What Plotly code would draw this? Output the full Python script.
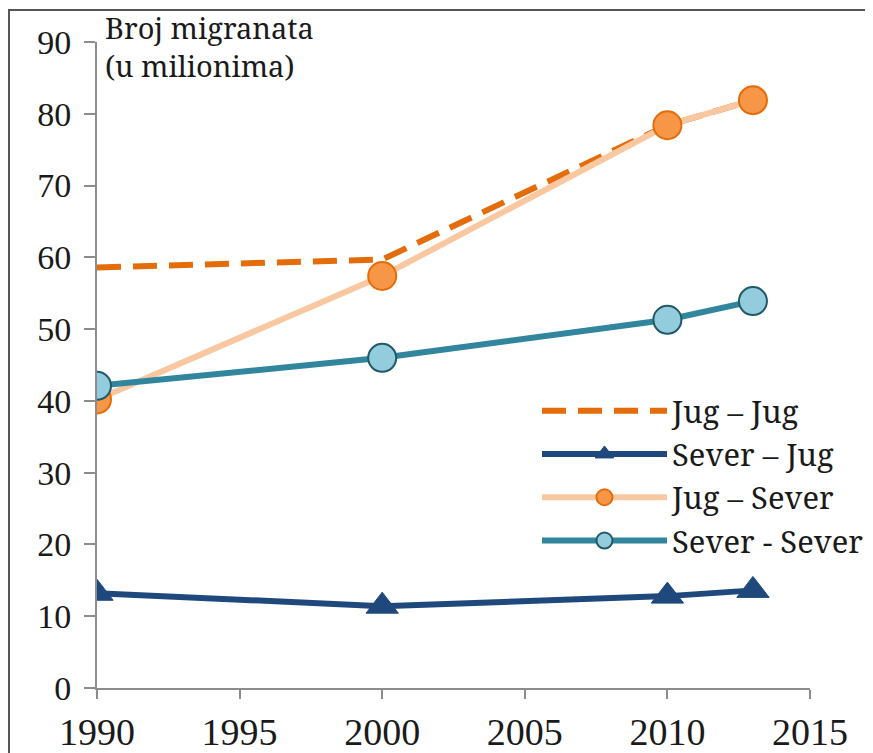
import plotly.graph_objects as go

years = [1990, 2000, 2010, 2013]
jug_jug = [58.6, 59.7, 78.4, 81.9]
sever_jug = [13.2, 11.4, 12.8, 13.6]
jug_sever = [40.2, 57.4, 78.4, 81.9]
sever_sever = [42.1, 46.0, 51.3, 53.9]

x_ticks = [1990, 1995, 2000, 2005, 2010, 2015]
y_ticks = [0, 10, 20, 30, 40, 50, 60, 70, 80, 90]

names = ["Jug – Jug", "Sever – Jug", "Jug – Sever", "Sever - Sever"]

TICKFONT = "Liberation Serif"
TEXTFONT = "Noto Serif"

fig = go.Figure()
fig.add_trace(go.Scatter(
    x=years, y=jug_jug, name=names[0], mode="lines", legendgroup="a",
    line=dict(color="#E46C0A", width=6, dash="24px,12px")))
fig.add_trace(go.Scatter(
    x=years, y=sever_jug, name=names[1], mode="lines+markers", legendgroup="b",
    line=dict(color="#1F497D", width=6),
    marker=dict(symbol="triangle-up", size=28, color="#1F497D",
                line=dict(color="#1F497D", width=1))))
fig.add_trace(go.Scatter(
    x=years, y=jug_sever, name=names[2], mode="lines+markers", legendgroup="c",
    line=dict(color="#FAC8A0", width=6),
    marker=dict(symbol="circle", size=28, color="#F79646",
                line=dict(color="#E46C0A", width=2))))
fig.add_trace(go.Scatter(
    x=years, y=sever_sever, name=names[3], mode="lines+markers", legendgroup="d",
    line=dict(color="#31859C", width=6),
    marker=dict(symbol="circle", size=28, color="#93CDDD",
                line=dict(color="#215968", width=2))))

fig.update_layout(
    width=873, height=753,
    margin=dict(l=89, r=71, t=34, b=73, autoexpand=False),
    paper_bgcolor="white", plot_bgcolor="white",
    font=dict(family=TICKFONT, color="#1a1a1a"),
    showlegend=True,
    legend=dict(x=0.6171, y=0.4706, xanchor="left", yanchor="top",
                bgcolor="rgba(0,0,0,0)", font=dict(family=TEXTFONT, size=31, color="#1a1a1a"),
                itemwidth=125, traceorder="grouped", tracegroupgap=0),
    xaxis=dict(range=[1990, 2015], tickvals=x_ticks,
               showgrid=False, zeroline=False, showline=True, linecolor="#8c8c8c",
               linewidth=2, ticks="outside", ticklen=9, tickwidth=2, tickcolor="#8c8c8c",
               ticklabelstandoff=0,
               tickfont=dict(family=TICKFONT, size=38, color="#1a1a1a")),
    yaxis=dict(range=[0, 90], tickvals=y_ticks,
               showgrid=False, zeroline=False, showline=True, linecolor="#8c8c8c",
               linewidth=2, ticks="outside", ticklen=11, tickwidth=2, tickcolor="#8c8c8c",
               ticklabelstandoff=6,
               tickfont=dict(family=TICKFONT, size=34, color="#1a1a1a")),
    annotations=[dict(
        text="Broj migranata<br>(u milionima)", xref="paper", yref="paper",
        x=0.009, y=1.056, xanchor="left", yanchor="top", align="left", showarrow=False,
        font=dict(family=TEXTFONT, size=29, color="#1a1a1a"))],
    shapes=[dict(type="rect", xref="paper", yref="paper", layer="below",
                 x0=-0.1234, x1=1.2, y0=-0.2, y1=1.0495,
                 line=dict(color="#555555", width=2))],
)

fig.write_html("out.html")
